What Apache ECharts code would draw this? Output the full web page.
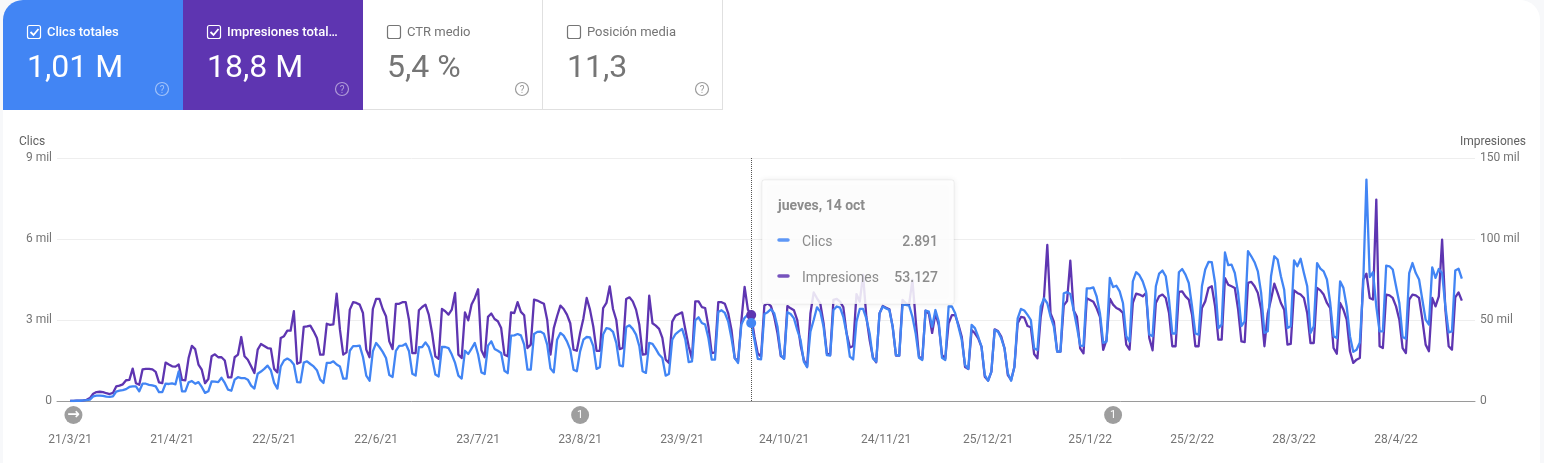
<!DOCTYPE html>
<html><head><meta charset="utf-8">
<script src="https://cdn.jsdelivr.net/npm/echarts@6/dist/echarts.min.js"></script>
<style>
html,body{margin:0;padding:0;width:1544px;height:463px;overflow:hidden;background:#f7f8fa}
#paper{position:absolute;left:3px;right:4px;top:0;bottom:0;background:#fff;border-radius:20px 20px 0 0}
#chart{position:absolute;left:0;top:0;width:1544px;height:463px}
</style></head><body><div id="paper"></div><div id="chart"></div>
<script>
// values are in thousands ("mil"), one per day from 21/3/21
const clics = [
0,0,0.01,0.01,0.02,0.03,0.05,0.17,0.2,0.2,0.19,0.16,0.15,0.17,0.35,0.38,0.4,0.44,0.52,0.54,0.54,0.36,
0.64,0.64,0.6,0.58,0.54,0.33,0.33,0.64,0.63,0.65,0.62,1.1,0.36,0.36,0.69,0.74,0.64,0.7,0.52,0.3,0.36,
0.73,0.72,0.7,0.86,0.67,0.42,0.38,0.79,0.88,0.85,0.85,0.79,0.57,0.46,1.01,1.09,1.19,1.31,1.14,0.67,0.46,
1.28,1.5,1.57,1.5,1.35,0.7,0.69,1.42,1.47,1.37,1.28,1.14,0.79,0.67,1.41,1.41,1.47,1.35,1.28,0.83,0.83,
1.86,2.03,2.03,2.05,1.63,0.94,0.75,1.84,2.15,2.0,1.82,1.59,0.96,0.89,1.86,2.04,2.05,2.12,1.84,1.01,0.94,
1.99,2.0,2.17,2.0,1.59,0.98,0.91,2.0,2.0,1.96,1.72,1.41,0.94,0.83,1.86,1.74,1.94,2.15,1.72,1.06,1.0,
2.05,2.21,1.93,1.86,1.78,1.12,1.03,2.42,2.43,2.48,2.43,2.09,1.16,1.16,2.48,2.56,2.57,2.49,2.09,1.2,1.06,
2.27,2.52,2.42,2.21,1.9,1.16,1.1,1.84,2.27,2.37,2.36,2.03,1.19,1.25,2.46,2.7,2.67,2.56,2.15,1.32,1.28,
2.74,2.8,2.67,2.46,2.03,1.1,1.04,2.15,2.12,1.93,1.72,1.59,0.94,1.0,2.27,2.48,2.58,2.67,2.27,1.44,1.47,
2.99,3.1,2.89,2.83,2.33,1.53,1.53,3.3,3.36,3.26,2.95,2.33,1.59,1.41,2.83,3.08,3.2,2.891,2.26,1.56,1.54,
3.22,3.29,3.4,3.25,2.75,1.7,1.56,3.29,3.22,3.06,2.63,2.26,1.46,1.25,2.57,3.0,3.47,3.31,2.75,1.7,1.68,
3.37,3.5,3.46,3.12,2.5,1.64,1.54,2.94,3.41,3.41,3.06,2.5,1.58,1.46,3.25,3.5,3.43,3.37,2.75,1.7,1.68,
3.56,3.56,3.53,3.12,2.5,1.6,1.52,3.35,3.31,2.75,3.37,2.94,1.6,1.52,3.5,3.5,3.25,2.75,2.26,1.33,1.19,
2.82,2.7,2.38,2.01,0.96,0.75,1.09,2.63,2.57,2.32,1.95,1.03,0.75,1.27,3.06,3.41,3.35,3.19,3.0,1.95,1.89,
3.5,3.8,3.62,3.12,2.75,1.83,1.83,3.99,4.03,3.96,3.37,2.75,2.05,2.04,4.17,4.17,4.21,3.87,3.25,2.15,2.2,
4.56,4.22,4.27,4.06,3.63,2.4,2.2,4.43,4.77,4.66,4.43,4.06,2.46,2.4,4.25,4.72,4.83,4.62,3.75,2.5,2.5,
4.77,4.89,4.68,4.37,3.5,2.5,2.46,4.25,4.87,5.15,5.14,4.37,2.7,2.83,5.5,5.03,5.05,4.74,4.0,2.77,2.95,
5.55,5.36,5.14,4.8,4.0,2.52,2.58,4.62,5.36,5.24,4.62,4.12,2.7,2.77,5.21,4.99,5.27,4.74,4.25,2.52,2.77,
5.11,4.9,4.8,4.5,3.63,2.4,2.33,4.43,4.19,3.5,2.4,1.82,1.9,2.17,4.25,8.2,4.59,4.77,3.5,2.58,2.58,
5.01,4.99,4.87,4.25,3.63,2.37,2.31,4.74,5.11,4.74,4.5,3.75,3.01,2.83,4.95,4.56,4.89,4.74,3.5,2.54,2.58,
4.83,4.9,4.53
];
const impresiones = [
0.1,0.1,0.2,0.2,0.4,0.7,1.8,4.5,5.5,5.7,5.5,4.8,4.3,5,9,9.5,10.3,12.8,13,20,11,10,
19.5,19.8,19.8,19.5,18,11.5,11,23.7,22.5,21.4,21.2,22.5,13,12.8,26.5,34,32,22.5,19.3,11,13.6,
27.6,28.8,27,27,25,14.6,14.6,27,28.6,39.5,27.6,25.5,21.4,17.3,31.7,35.2,34,32.7,32.3,19.8,17.7,
38.9,40,43.4,43.4,55.4,23,23.9,45.7,46,46.5,43,38.9,28.6,28.6,47.7,47,47.3,66.3,44,28.6,30,
56.4,61,60.5,59.5,54.3,31.7,27,56.8,63,63,56.8,52.3,36.8,32,60,60,61,61,50,29.6,29.6,
56,58,59.5,53.3,42,27.6,26,56.8,55.4,53.3,56.4,66.7,28.6,26.5,54.7,49.8,59.5,63.6,69,31.3,27,
51.9,54,50.6,49.2,45,28.6,27.6,54.7,54.3,61,55,52.9,32.7,34.8,62.6,62,61,60,50,28.6,45,
52.3,58.9,56.8,53.3,48,31.7,31,42,51,63.6,56.4,46,31,31,57.4,60.5,70.8,56.8,50,32,32.7,
63,64,61.5,56.4,47,28.6,29,65,48,46.5,44.5,39,25.5,23.5,49,52.7,53.7,54.7,44,33.8,26,
61.5,61.5,58,57.4,46,29.6,30,61,61,60,54.3,44,26.5,24.5,49,70.4,56.4,53.127,39.7,29.4,27.4,
59,60.3,58.6,52,41.8,27.8,26.3,58.6,57.2,56,50,34.6,25.3,21.2,54,67,63.4,60.3,48,29.4,28.4,
62.4,63,61.3,58,41.8,33,34,66,61.3,77.8,52,37.7,27,23.9,54,58.6,57.6,56.6,45.9,28,28,
62.4,60.3,59.7,74.7,50,27.4,26,55.8,54,42,54,47,28.4,26.3,48,53,53,47,39.7,21,19.8,
43.8,41.8,38.7,33.5,15,12.6,18,44.2,43.2,39.7,32.5,16,13,21,48,51.9,51.5,46.3,45.5,29,26.3,
52,64,96.3,54,49,30.5,30.5,59,61.7,86.6,56,52,32.5,29.4,63.4,62.4,61.3,57.2,52,31.5,37.7,
63.2,59.5,57.4,56.4,54.3,34.8,31.7,60.5,66.3,65.7,64.6,66.7,38.9,31.3,60.5,64.6,65.7,63.6,54.3,33.8,33.8,
67.3,67.7,64.6,62.6,53.3,33.8,33.8,57.4,61.5,69.8,70.8,58.4,37.9,37.9,75.9,71.8,70.8,69.8,56.4,36.8,36.4,
72.9,73.5,70.8,66.7,56.4,33.8,54,62.6,72.4,66.7,60.5,56.4,34.8,35.2,68.3,66.7,65.7,63.6,54.3,35.8,35.8,
69.8,68.3,65.7,60.5,57.4,32.7,29.2,60.5,56.4,50.2,30.7,23.5,25.5,26.5,74.9,78.6,63.6,62.6,124.3,33.8,32.7,
65.7,65.2,63.6,58.4,50.2,32.7,29.6,62.6,65.7,65.2,63.6,50.2,34.8,30.7,63.6,58.4,64.6,99.6,56.4,33.8,31.7,
64,67,62
];
const firstDay = [2021, 2, 21];
const tickLabels = ['21/3/21','21/4/21','22/5/21','22/6/21','23/7/21','23/8/21','23/9/21','24/10/21','24/11/21','25/12/21','25/1/22','25/2/22','28/3/22','28/4/22'];
const cardTitles = ['Clics totales','Impresiones total…','CTR medio','Posición media'];
const cardValues = ['1,01 M','18,8 M','5,4 %','11,3'];
const annotations = [['22/3/21','→'],['23/8/21','1'],['1/2/22','1']];
const hoverDate = '14/10/21';
const tipDate = 'jueves, 14 oct';
const tipLabels = ['Clics','Impresiones'];
const tipValues = ['2.891','53.127'];

const BLUE='#4285f4', PURPLE='#5e35b1', GREY='#757575';
const PAD=4;
const cats=[];
for(let i=-PAD;i<clics.length+PAD;i++){
  const d=new Date(Date.UTC(firstDay[0],firstDay[1],firstDay[2]+i));
  cats.push(d.getUTCDate()+'/'+(d.getUTCMonth()+1)+'/'+String(d.getUTCFullYear()).slice(2));
}
const padded=a=>[...Array(PAD).fill(null),...a,...Array(PAD).fill(null)];
const hoverIdx=cats.indexOf(hoverDate)-PAD;
const font='Roboto';

const g=[];
function txt(x,y,s,o={}){g.push({type:'text',x,y,z:o.z||20,style:{text:s,fill:o.fill||GREY,font:(o.weight||400)+' '+(o.size||12)+'px '+font,textAlign:o.align||'left',textVerticalAlign:'middle',opacity:o.opacity==null?1:o.opacity}});}
const cardFill=[BLUE,PURPLE,'#fff','#fff'];
cardTitles.forEach((t,i)=>{
  const x=3+i*180, on=i<2, fg=on?'#fff':GREY;
  g.push({type:'rect',x:0,y:0,z:10,shape:{x,y:0,width:180,height:110,r:i===0?[20,0,0,0]:0},style:{fill:cardFill[i]}});
  if(!on){
    g.push({type:'line',z:11,shape:{x1:x+179.5,y1:0,x2:x+179.5,y2:110},style:{stroke:'#e0e0e0',lineWidth:1}});
    g.push({type:'line',z:11,shape:{x1:x,y1:109.5,x2:x+180,y2:109.5},style:{stroke:'#e0e0e0',lineWidth:1}});
  }
  g.push({type:'rect',z:12,shape:{x:x+24.5,y:25.5,width:13,height:13,r:2},style:{fill:'none',stroke:fg,lineWidth:1.2}});
  if(on) g.push({type:'polyline',z:12,shape:{points:[[x+27.5,32],[x+30.5,35],[x+35.5,29]]},style:{fill:'none',stroke:'#fff',lineWidth:1.8}});
  txt(x+44,33,t,{fill:fg,size:13,weight:on?500:400,z:12});
  txt(x+24,69,cardValues[i],{fill:fg,size:32,z:12});
  const hc=on?'rgba(255,255,255,.5)':'#9a9a9a';
  g.push({type:'circle',z:12,shape:{cx:x+159,cy:89,r:6.5},style:{fill:'none',stroke:hc,lineWidth:1.2}});
  txt(x+159,90,'?',{fill:hc,size:10,align:'center',z:12});
});
txt(19,142,'Clics',{size:12,fill:'#616161'});
txt(1460,142,'Impresiones',{size:12,fill:'#616161'});
// hover card
g.push({type:'rect',z:30,shape:{x:762,y:180,width:192,height:124,r:2},style:{fill:'rgba(255,255,255,.86)',stroke:'rgba(0,0,0,.06)',lineWidth:1,shadowBlur:6,shadowColor:'rgba(0,0,0,.10)'}});
const tipFg='#8c8c8c';
txt(778,206,tipDate,{size:14,weight:700,fill:tipFg,z:31});
[[BLUE,242],[PURPLE,278]].forEach(([c,y],i)=>{
  g.push({type:'line',z:31,shape:{x1:779,y1:y-2,x2:788,y2:y-2},style:{stroke:c,lineWidth:3.5,lineCap:'round',opacity:.85}});
  txt(802,y,tipLabels[i],{size:14,fill:tipFg,z:31});
  txt(938,y,tipValues[i],{size:14,weight:500,fill:tipFg,align:'right',z:31});
});

const chart=echarts.init(document.getElementById('chart'),null,{renderer:'canvas'});
chart.setOption({
  animation:false,
  backgroundColor:'transparent',
  textStyle:{fontFamily:font},
  grid:{left:57,right:69,top:158,bottom:62,containLabel:false},
  xAxis:{type:'category',boundaryGap:false,data:cats,
    axisLine:{lineStyle:{color:'#9a9a9a',width:1}},axisTick:{show:false},splitLine:{show:false},
    axisLabel:{interval:(i,v)=>tickLabels.includes(v),color:GREY,fontSize:12,fontFamily:font,margin:33,hideOverlap:false}},
  yAxis:[
   {type:'value',min:0,max:9,interval:3,axisLine:{show:false},axisTick:{show:false},
    splitLine:{lineStyle:{color:'#eeeeee',width:1}},
    axisLabel:{margin:5,padding:[2,0,0,0],color:GREY,fontSize:12,fontFamily:font,formatter:v=>v===0?'0':v+' mil'}},
   {type:'value',min:0,max:150,interval:50,axisLine:{show:false},axisTick:{show:false},splitLine:{show:false},
    axisLabel:{margin:5,padding:[2,0,0,0],color:GREY,fontSize:12,fontFamily:font,formatter:v=>v===0?'0':v+' mil'}}
  ],
  series:[
   {name:'Impresiones',type:'line',yAxisIndex:1,data:padded(impresiones),showSymbol:false,symbol:'none',z:3,
    lineStyle:{color:PURPLE,width:2.3,join:'round'},itemStyle:{color:PURPLE},
    markLine:{silent:true,symbol:'none',animation:false,label:{show:false},
      lineStyle:{color:'#555',type:'dotted',width:1},data:[{xAxis:hoverDate}]},
    markPoint:{animation:false,silent:true,data:[
      {coord:[hoverDate,impresiones[hoverIdx]],symbol:'circle',symbolSize:10,itemStyle:{color:PURPLE},label:{show:false}},
      ...annotations.map(([d,t])=>({coord:[d,0],symbol:'circle',symbolSize:18,symbolOffset:[0,14],
        itemStyle:{color:'#9e9e9e'},label:{show:true,formatter:t,position:'inside',color:'#fff',fontSize:t==='→'?15:11,fontWeight:t==='→'?700:400,fontFamily:t==='→'?'DejaVu Sans':font}}))
    ]}},
   {name:'Clics',type:'line',yAxisIndex:0,data:padded(clics),showSymbol:false,symbol:'none',z:4,
    lineStyle:{color:BLUE,width:2.3,join:'round'},itemStyle:{color:BLUE},
    markPoint:{animation:false,silent:true,data:[
      {coord:[hoverDate,clics[hoverIdx]],symbol:'circle',symbolSize:10,itemStyle:{color:BLUE},label:{show:false}}]}}
  ],
  graphic:{elements:g}
});
</script></body></html>
